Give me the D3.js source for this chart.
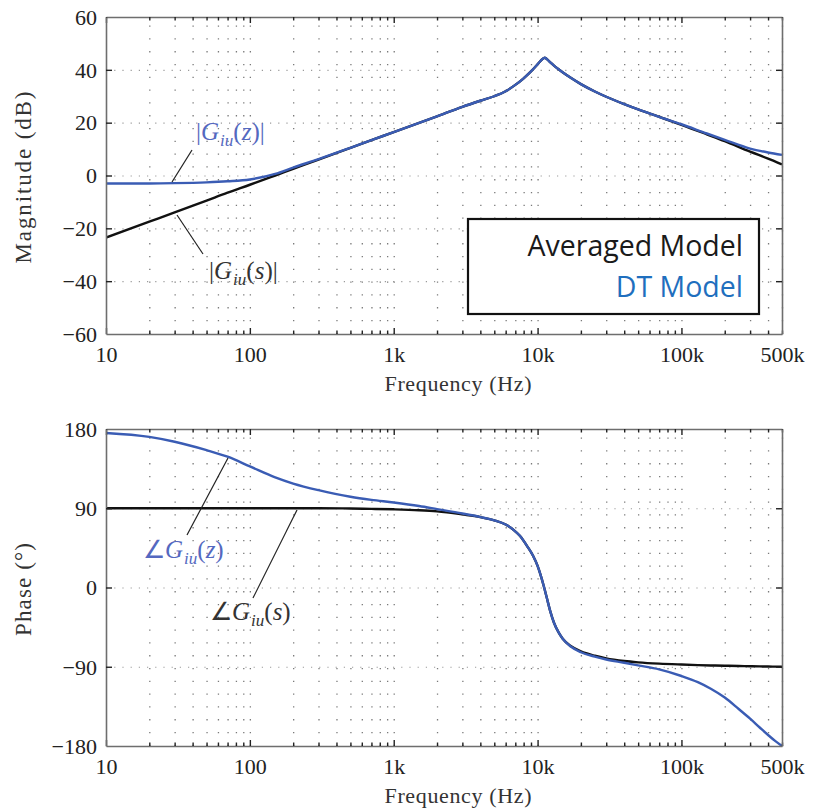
<!DOCTYPE html>
<html><head><meta charset="utf-8">
<script src="https://cdn.jsdelivr.net/npm/d3@7"></script>
<style>
body{margin:0;background:#fff;}
svg{display:block;}
</style></head>
<body><svg id="c" width="817" height="808"></svg>
<script>
// ---------- data ----------
const xTickValues = [10, 100, 1e3, 1e4, 1e5, 5e5];
const xTickLabels = ["10", "100", "1k", "10k", "100k", "500k"];
const magTicks = [-60, -40, -20, 0, 20, 40, 60];
const phaseTicks = [-180, -90, 0, 90, 180];

const magFreq = [10,20,30,50,70,100,150,200,300,500,700,1e3,2e3,3e3,4e3,5e3,6e3,7e3,8e3,9e3,1e4,1.05e4,1.12e4,1.2e4,1.3e4,1.4e4,1.5e4,1.7e4,2e4,2.5e4,3e4,4e4,5e4,7e4,1e5,1.5e5,2e5,3e5,4e5,5e5];
const magAvg  = [-23.5,-17.5,-14,-9.5,-6.5,-3.5,0,2.5,6,10.5,13.4,16.4,22.4,26,28.3,30.0,31.9,34.3,36.8,39.4,42.1,43.4,44.6,43.3,41.6,40.2,39.0,37.0,34.6,31.8,29.8,27.0,25.0,22.2,19.2,15.6,13,9,6.4,4.2];
const magDT   = [-3,-3,-2.9,-2.6,-2.2,-1.5,0.6,3.0,6.2,10.5,13.4,16.4,22.4,26,28.3,30.0,31.9,34.3,36.8,39.4,42.1,43.4,44.6,43.3,41.6,40.2,39.0,37.0,34.6,31.8,29.8,27.0,25.0,22.2,19.4,15.9,13.5,10.2,8.7,7.8];

const phFreq = [10,20,30,50,70,100,150,200,300,500,700,1e3,1.5e3,2e3,3e3,4e3,5e3,6e3,6.8e3,7.5e3,8.5e3,9.3e3,1e4,1.05e4,1.1e4,1.16e4,1.23e4,1.3e4,1.4e4,1.5e4,1.7e4,2e4,2.5e4,3e4,4e4,5e4,7e4,1e5,1.3e5,1.6e5,2e5,2.5e5,3e5,3.5e5,4e5,4.5e5,5e5];
const phAvg = [90,90,90,90,90,90,90,90,90,89.7,89.3,88.8,87.8,86.5,83,80,76.3,71.5,65.5,59,46.5,36,24.5,14,2.5,-12,-28,-40,-51,-58.5,-66.5,-72.5,-77.5,-80.5,-83.5,-85,-86.5,-87.5,-88.1,-88.5,-88.8,-89.1,-89.4,-89.6,-89.8,-89.9,-90];
const phDT  = [175.5,171,165.5,156,148.5,137.5,125,118,110.5,103,99.5,96.5,92.5,89,84,80,76.3,71.5,65.5,59,46.5,36,24.5,14,2.5,-12,-28,-40,-51,-58.5,-67,-73.5,-78.5,-81.8,-85.5,-88.5,-93,-100.5,-107.5,-115,-125,-138,-149,-159,-167.5,-174.5,-180];

const legendItems = ["Averaged Model", "DT Model"];

// ---------- layout ----------
const SERIF = "'Liberation Serif', 'Times New Roman', serif";
const svg = d3.select("#c");
const X0 = 106, X1 = 782;
const panels = [
  {top:17, bot:334, domain:[-60,60], ticks:magTicks, ylabel:"Magnitude (dB)", ylen:172,
   series:[{f:magFreq, v:magAvg, c:"#111"}, {f:magFreq, v:magDT, c:"#3a5cb4"}]},
  {top:429, bot:746, domain:[-180,180], ticks:phaseTicks, ylabel:"Phase (\u00B0)", ylen:93,
   series:[{f:phFreq, v:phAvg, c:"#111"}, {f:phFreq, v:phDT, c:"#3a5cb4"}]}
];

const minor = [];
for (let d = 10; d <= 1e5; d *= 10) for (let m = 2; m <= 9; m++) { const v = d*m; if (v <= 5e5) minor.push(v); }

const x = d3.scaleLog().domain([10, 5e5]).range([X0, X1]);

panels.forEach((p, i) => {
  const y = d3.scaleLinear().domain(p.domain).range([p.bot, p.top]);
  const h = p.bot - p.top, w = X1 - X0;
  const g = svg.append("g");

  // grid vertical
  g.append("g").attr("transform", `translate(0,${p.bot})`)
    .call(d3.axisBottom(x).tickValues(minor.concat([100,1e3,1e4,1e5])).tickSize(-h).tickFormat(""))
    .call(s => s.select(".domain").remove())
    .call(s => s.selectAll("line").attr("stroke", "#7a7a7a").attr("stroke-width", 1.3).attr("stroke-dasharray", "1.3,11.5"));
  // grid horizontal
  g.append("g").attr("transform", `translate(${X0},0)`)
    .call(d3.axisLeft(y).tickValues(p.ticks.slice(1, -1)).tickSize(-w).tickFormat(""))
    .call(s => s.select(".domain").remove())
    .call(s => s.selectAll("line").attr("stroke", "#9a9a9a").attr("stroke-width", 1.1).attr("stroke-dasharray", "1.2,7"));

  // curves
  const clipId = "clip" + i;
  svg.append("clipPath").attr("id", clipId).append("rect").attr("x", X0).attr("y", p.top - 2).attr("width", w + 1).attr("height", h + 4);
  p.series.forEach(s => {
    const line = d3.line().x((d, k) => x(s.f[k])).y(d => y(d)).curve(d3.curveMonotoneX);
    g.append("path").attr("d", line(s.v)).attr("fill", "none").attr("stroke", s.c)
      .attr("stroke-width", 2.4).attr("clip-path", `url(#${clipId})`);
  });

  // axes frame & ticks (inside)
  const axCol = "#6e6e6e";
  const styleAx = s => { s.select(".domain").attr("stroke", axCol).attr("stroke-width", 1.6); s.selectAll(".tick line").attr("stroke", "#222").attr("stroke-width", 1.4); };
  const bottomAx = g.append("g").attr("transform", `translate(0,${p.bot})`)
    .call(d3.axisBottom(x).tickValues(xTickValues).tickSize(-6).tickSizeOuter(0).tickPadding(14)
      .tickFormat((d, k) => xTickLabels[k])).call(styleAx);
  bottomAx.attr("font-family", SERIF).attr("font-size", 22);
  bottomAx.selectAll("text").style("font-family", SERIF).attr("font-size", 22).attr("fill", "#222").attr("dy", null).attr("y", 28);
  bottomAx.selectAll(".tick").filter(d => d === 5e5).select("line").remove();
  g.append("g").attr("transform", `translate(0,${p.bot})`)
    .call(d3.axisBottom(x).tickValues(minor).tickSize(-3.5).tickFormat("")).call(styleAx)
    .call(s => s.select(".domain").remove());
  g.append("g").attr("transform", `translate(0,${p.top})`)
    .call(d3.axisTop(x).tickValues(xTickValues.slice(0, -1)).tickSize(-6).tickSizeOuter(0).tickFormat("")).call(styleAx);
  g.append("g").attr("transform", `translate(0,${p.top})`)
    .call(d3.axisTop(x).tickValues(minor).tickSize(-3.5).tickFormat("")).call(styleAx)
    .call(s => s.select(".domain").remove());
  const leftAx = g.append("g").attr("transform", `translate(${X0},0)`)
    .call(d3.axisLeft(y).tickValues(p.ticks).tickSize(-6).tickSizeOuter(0).tickPadding(9)
      .tickFormat(d => d < 0 ? "\u2212" + Math.abs(d) : String(d))).call(styleAx);
  leftAx.attr("font-family", SERIF).attr("font-size", 22);
  leftAx.selectAll("text").style("font-family", SERIF).attr("font-size", 22).attr("fill", "#222").attr("dy", "0.33em");
  leftAx.selectAll(".tick").filter(d => d === p.domain[0] || d === p.domain[1]).select("line").remove();
  g.append("g").attr("transform", `translate(${X1},0)`)
    .call(d3.axisRight(y).tickValues(p.ticks.slice(1, -1)).tickSize(-6).tickSizeOuter(0).tickFormat("")).call(styleAx);

  // y label
  g.append("text").style("font-family", SERIF).attr("font-size", 23).attr("fill", "#333")
    .attr("textLength", p.ylen).attr("lengthAdjust", "spacing")
    .attr("transform", `translate(31,${(p.top + p.bot) / 2 + 2}) rotate(-90)`).attr("text-anchor", "middle")
    .text(p.ylabel);
  // x label
  g.append("text").style("font-family", SERIF).attr("font-size", 22).attr("fill", "#333")
    .attr("textLength", 147).attr("lengthAdjust", "spacing")
    .attr("x", (X0 + X1) / 2 + 14).attr("y", p.bot + 57).attr("text-anchor", "middle")
    .text("Frequency (Hz)");
});

// ---------- annotations ----------
function mathLabel(px, py, prefix, arg, color) {
  const t = svg.append("text").style("font-family", SERIF).attr("font-size", 25).attr("fill", color)
    .attr("x", px).attr("y", py);
  t.append("tspan").text(prefix);
  t.append("tspan").attr("font-style", "italic").text("G");
  t.append("tspan").attr("font-style", "italic").attr("font-size", 17).attr("dy", 6).attr("dx", 1).text("iu");
  t.append("tspan").attr("dy", -6).text("(");
  t.append("tspan").attr("font-style", "italic").text(arg.v);
  t.append("tspan").text(")" + arg.post);
}
const annBlue = "#5468c0";
mathLabel(196, 140, "|", {v:"z", post:"|"}, annBlue);
mathLabel(209, 279, "|", {v:"s", post:"|"}, "#333");
mathLabel(143, 558, "\u2220", {v:"z", post:""}, annBlue);
mathLabel(210, 620, "\u2220", {v:"s", post:""}, "#333");
const leaders = [
  [[192,150],[172,182]],
  [[177,215],[203,254]],
  [[228,458],[187,535]],
  [[297,510],[253,598]]
];
leaders.forEach(l => svg.append("line").attr("x1", l[0][0]).attr("y1", l[0][1]).attr("x2", l[1][0]).attr("y2", l[1][1])
  .attr("stroke", "#222").attr("stroke-width", 1.2));

// ---------- legend ----------
const lg = svg.append("g");
lg.append("rect").attr("x", 468).attr("y", 219).attr("width", 291).attr("height", 95)
  .attr("fill", "#fff").attr("stroke", "#111").attr("stroke-width", 2.2);
const legendColors = ["#1a1a1a", "#1f6fbe"];
legendItems.forEach((txt, k) => lg.append("text").attr("x", 743).attr("y", 256 + k * 41)
  .attr("text-anchor", "end").attr("font-family", "'Open Sans', sans-serif").attr("font-size", 28.5)
  .attr("fill", legendColors[k]).text(txt));
</script></body></html>
